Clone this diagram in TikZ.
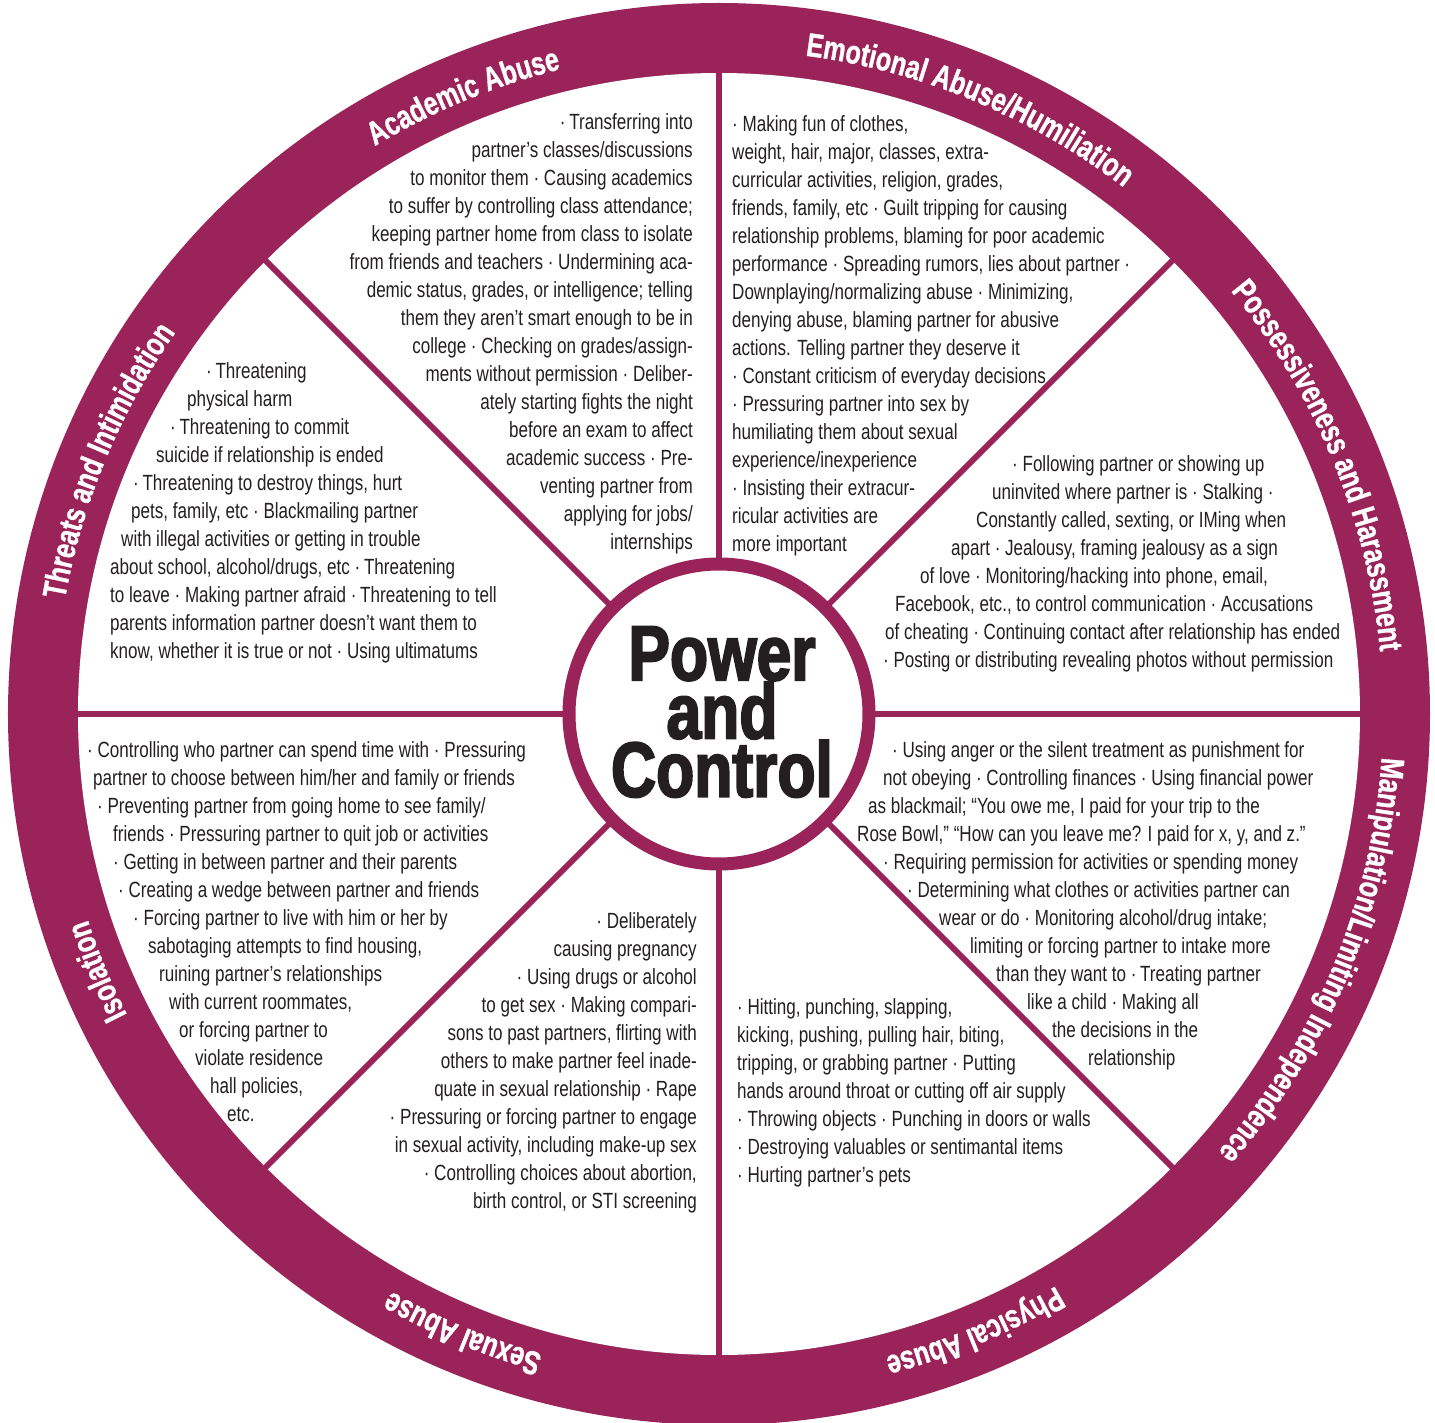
\documentclass[tikz,border=0pt]{standalone}
\usepackage{fontspec}
\newfontfamily\bodyfam[FakeStretch=0.775]{Liberation Sans}
\newfontfamily\rimfam[FakeStretch=0.76,FakeBold=1]{Liberation Sans}
\newfontfamily\titlefam[FakeStretch=0.80,FakeBold=2.5]{Liberation Sans}
\usetikzlibrary{decorations.text}

\definecolor{wheel}{RGB}{154,36,89}
\definecolor{ink}{RGB}{35,31,32}

\newcommand{\bodyfont}{\bodyfam\fontsize{22}{28}\selectfont}
\newcommand{\rimfont}{\rimfam\bfseries\fontsize{33}{33}\selectfont}
\newcommand{\titlefont}{\titlefam\bfseries\fontsize{78}{57}\selectfont}
\newcommand{\pushin}[1]{\hspace*{#1pt}}

\tikzset{
  spoke/.style={draw=wheel, line width=6pt},
  items/.style={font=\bodyfont, text=ink, inner sep=0pt},
  rimlabel/.style={decorate, decoration={text along path, text align=center,
      text color=white, text={|\rimfont|#1}}},
}

\begin{document}
\begin{tikzpicture}[x=1pt, y=1pt]
\useasboundingbox (-719,-708) rectangle (716,714);

% rim
\fill[wheel] (0,0) circle[radius=711pt];
\fill[white] (0,0) circle[radius=641pt];

% spokes
\foreach \a in {0,45,...,315}
  \draw[spoke] (\a:150pt) -- (\a:645pt);

% hub
\draw[wheel, fill=white, line width=13pt] (0,0) circle[radius=150pt];
\node[font=\titlefont, text=ink, align=center, inner sep=0pt] (title) at (3,2)
  {Power\\and\\Control};

% rim labels, all running clockwise
\path[rimlabel={Academic Abuse}] (152.5:664pt) arc[start angle=152.5, end angle=72.5, radius=664pt];
\path[rimlabel={Emotional Abuse/Humiliation}] (107.5:664pt) arc[start angle=107.5, end angle=27.5, radius=664pt];
\path[rimlabel={Possessiveness and Harassment}] (62.5:664pt) arc[start angle=62.5, end angle=-17.5, radius=664pt];
\path[rimlabel={Manipulation/Limiting Independence}] (17.5:664pt) arc[start angle=17.5, end angle=-62.5, radius=664pt];
\path[rimlabel={Physical Abuse}] (-27.5:664pt) arc[start angle=-27.5, end angle=-107.5, radius=664pt];
\path[rimlabel={Sexual Abuse}] (-72.5:664pt) arc[start angle=-72.5, end angle=-152.5, radius=664pt];
\path[rimlabel={Isolation}] (-117.5:664pt) arc[start angle=-117.5, end angle=-197.5, radius=664pt];
\path[rimlabel={Threats and Intimidation}] (197.5:664pt) arc[start angle=197.5, end angle=117.5, radius=664pt];

% sector texts
\node[items, align=right, anchor=north east] (academic) at (-26,600.5)
  {·\,Transferring into\\
   partner’s classes/discussions\\
   to monitor them · Causing academics\\
   to suffer by controlling class attendance;\\
   keeping partner home from class to isolate\\
   from friends and teachers · Undermining aca-\\
   demic status, grades, or intelligence; telling\\
   them they aren’t smart enough to be in\\
   college · Checking on grades/assign-\\
   ments without permission · Deliber-\\
   ately starting fights the night\\
   before an exam to affect\\
   academic success · Pre-\\
   venting partner from\\
   applying for jobs/\\
   internships};

\node[items, align=left, anchor=north west] (emotional) at (13,598.5)
  {· Making fun of clothes,\\
   weight, hair, major, classes, extra-\\
   curricular activities, religion, grades,\\
   friends, family, etc · Guilt tripping for causing\\
   relationship problems, blaming for poor academic\\
   performance · Spreading rumors, lies about partner ·\\
   Downplaying/normalizing abuse · Minimizing,\\
   denying abuse, blaming partner for abusive\\
   actions. Telling partner they deserve it\\
   · Constant criticism of everyday decisions\\
   · Pressuring partner into sex by\\
   humiliating them about sexual\\
   experience/inexperience\\
   · Insisting their extracur-\\
   ricular activities are\\
   more important};

\node[items, align=left, anchor=north west] (threats) at (-609,351.5)
  {\pushin{96}·\,Threatening\\
   \pushin{77}physical harm\\
   \pushin{60}·\,Threatening to commit\\
   \pushin{46}suicide if relationship is ended\\
   \pushin{23}·\,Threatening to destroy things, hurt\\
   \pushin{21}pets, family, etc · Blackmailing partner\\
   \pushin{11}with illegal activities or getting in trouble\\
   about school, alcohol/drugs, etc ·\,Threatening\\
   to leave · Making partner afraid ·\,Threatening to tell\\
   parents information partner doesn’t want them to\\
   know, whether it is true or not · Using ultimatums};

\node[items, align=left, anchor=north west] (possess) at (164,258.5)
  {\pushin{129}· Following partner or showing up\\
   \pushin{109}uninvited where partner is · Stalking ·\\
   \pushin{93}Constantly called, sexting, or IMing when\\
   \pushin{68}apart · Jealousy, framing jealousy as a sign\\
   \pushin{37}of love · Monitoring/hacking into phone, email,\\
   \pushin{12}Facebook, etc., to control communication · Accusations\\
   \pushin{2}of cheating · Continuing contact after relationship has ended\\
   · Posting or distributing revealing photos without permission};

\node[items, align=left, anchor=north west] (isolation) at (-632,-27.5)
  {· Controlling who partner can spend time with · Pressuring\\
   \pushin{6}partner to choose between him/her and family or friends\\
   \pushin{10}· Preventing partner from going home to see family/\\
   \pushin{26}friends · Pressuring partner to quit job or activities\\
   \pushin{26}· Getting in between partner and their parents\\
   \pushin{31}· Creating a wedge between partner and friends\\
   \pushin{46}· Forcing partner to live with him or her by\\
   \pushin{61}sabotaging attempts to find housing,\\
   \pushin{72}ruining partner’s relationships\\
   \pushin{82}with current roommates,\\
   \pushin{92}or forcing partner to\\
   \pushin{108}violate residence\\
   \pushin{123}hall policies,\\
   \pushin{140}etc.};

\node[items, align=left, anchor=north west] (manip) at (138,-27.5)
  {\pushin{35}· Using anger or the silent treatment as punishment for\\
   \pushin{26}not obeying · Controlling finances · Using financial power\\
   \pushin{11}as blackmail; “You owe me, I paid for your trip to the\\
   Rose Bowl,” “How can you leave me? I paid for x, y, and z.”\\
   \pushin{26}· Requiring permission for activities or spending money\\
   \pushin{50}· Determining what clothes or activities partner can\\
   \pushin{82}wear or do · Monitoring alcohol/drug intake;\\
   \pushin{113}limiting or forcing partner to intake more\\
   \pushin{139}than they want to ·\,Treating partner\\
   \pushin{170}like a child · Making all\\
   \pushin{195}the decisions in the\\
   \pushin{231}relationship};

\node[items, align=right, anchor=north east] (sexual) at (-22,-198.5)
  {· Deliberately\\
   causing pregnancy\\
   · Using drugs or alcohol\\
   to get sex · Making compari-\\
   sons to past partners, flirting with\\
   others to make partner feel inade-\\
   quate in sexual relationship · Rape\\
   · Pressuring or forcing partner to engage\\
   in sexual activity, including make-up sex\\
   · Controlling choices about abortion,\\
   birth control, or STI screening};

\node[items, align=left, anchor=north west] (physical) at (18,-284.5)
  {· Hitting, punching, slapping,\\
   kicking, pushing, pulling hair, biting,\\
   tripping, or grabbing partner · Putting\\
   hands around throat or cutting off air supply\\
   · Throwing objects · Punching in doors or walls\\
   · Destroying valuables or sentimantal items\\
   · Hurting partner’s pets};
\end{tikzpicture}
\end{document}
